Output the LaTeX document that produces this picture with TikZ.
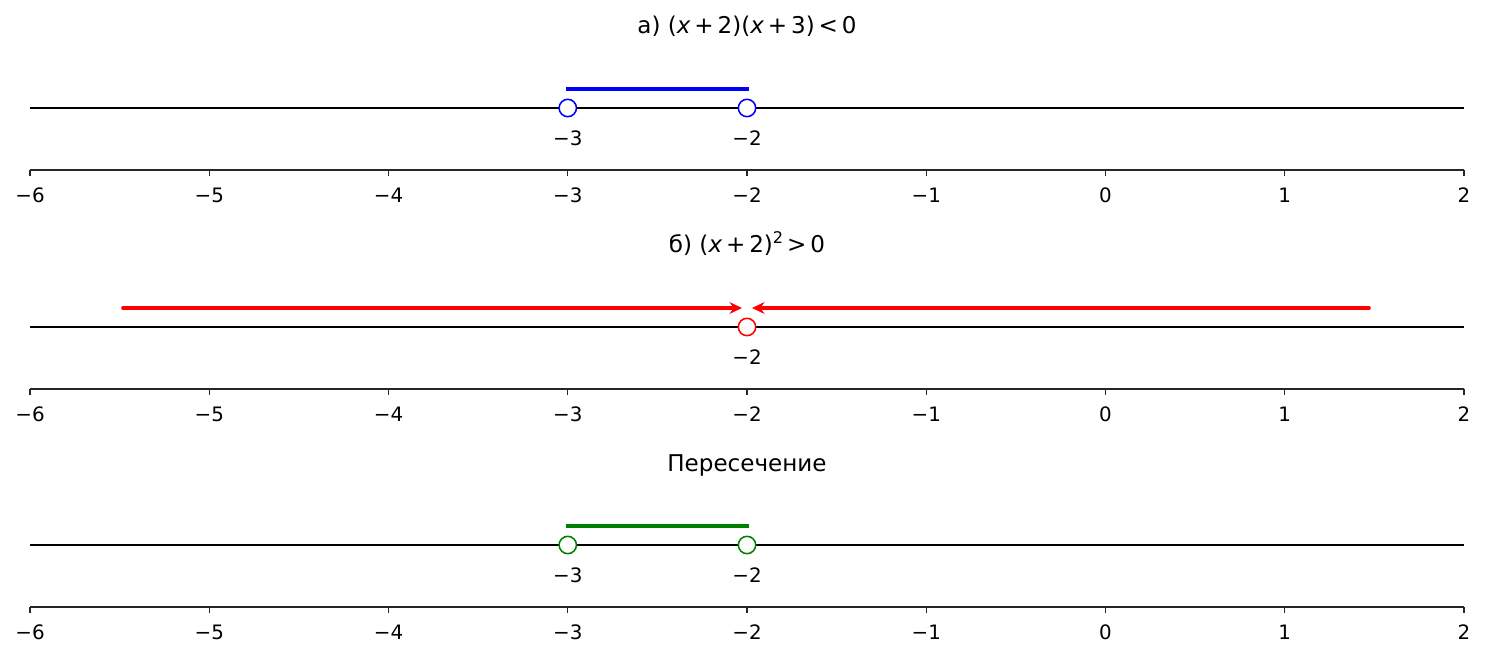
\documentclass[tikz,border=0pt]{standalone}
\usepackage{fontspec}
\setmainfont{DejaVu Sans}
\usetikzlibrary{arrows.meta}
\definecolor{mplblue}{RGB}{0,0,255}
\definecolor{mplred}{RGB}{255,0,0}
\definecolor{mplgreen}{RGB}{0,128,0}
\newcommand{\vx}{{\itshape x}}
\newcommand{\bsp}{\hspace{0.17em}}
\tikzset{
  numline/.style={black, line width=1.3pt},
  axisline/.style={black!85, line width=1pt},
  tickmark/.style={black!85, line width=1pt},
  openpt/.style={circle, draw, fill=white, line width=1.1pt, minimum size=12.5pt, inner sep=0pt},
  lbl/.style={font=\fontsize{14.3}{16}\selectfont, inner sep=0pt},
  ttl/.style={font=\fontsize{16.6}{19}\selectfont, inner sep=0pt, anchor=base},
  bar/.style={line width=3pt, line cap=rect},
  rarrow/.style={mplred, line width=2.6pt, line cap=round, -{Stealth[length=9pt,width=8.5pt,inset=3pt]}},
}
\begin{document}
\begin{tikzpicture}[x=0.72pt,y=-0.72pt]
\useasboundingbox (0,0) rectangle (1485,657);
% axes for all three panels
\foreach \ay [count=\k] in {170,389,607} {
  \coordinate (axl\k) at (30,\ay);
  \coordinate (axr\k) at (1464,\ay);
  \draw[axisline] (axl\k) -- (axr\k);
  \foreach \v in {-6,...,2} {
    \coordinate (t\k\v) at ({30+179.25*(\v+6)},\ay);
    \draw[tickmark] (t\k\v) -- ++(0,6);
    \node[lbl] (tl\k\v) at ({30+179.25*(\v+6)},\ay+25)
      {\ifnum\v<0 −\the\numexpr-\v\relax\else\v\fi};
  }
}
% ---------- panel a ----------
\node[ttl] (ta) at (747,34) {а) (\vx\bsp+\bsp2)(\vx\bsp+\bsp3)\bsp<\bsp0};
\coordinate (la) at (30,108);
\coordinate (ra) at (1464,108);
\draw[numline] (la) -- (ra);
\coordinate (a3t) at (567.75,89);
\coordinate (a2t) at (747,89);
\draw[bar, mplblue] (a3t) -- (a2t);
\node[openpt, draw=mplblue] (a3) at (567.75,108) {};
\node[openpt, draw=mplblue] (a2) at (747,108) {};
\node[lbl] (a3l) at (567.75,138.5) {−3};
\node[lbl] (a2l) at (747,138.5) {−2};
% ---------- panel b ----------
\node[ttl] (tb) at (747,253) {б) (\vx\bsp+\bsp2)\raisebox{0.42em}{\fontsize{11.6}{12}\selectfont 2}\bsp>\bsp0};
\coordinate (lb) at (30,327);
\coordinate (rb) at (1464,327);
\draw[numline] (lb) -- (rb);
\coordinate (bls) at (123,308);
\coordinate (ble) at (742,308);
\coordinate (brs) at (1369,308);
\coordinate (bre) at (752,308);
\draw[rarrow] (bls) -- (ble);
\draw[rarrow] (brs) -- (bre);
\node[openpt, draw=mplred] (b2) at (747,327) {};
\node[lbl] (b2l) at (747,357.5) {−2};
% ---------- panel c ----------
\node[ttl] (tc) at (747,472) {Пересечение};
\coordinate (lc) at (30,545);
\coordinate (rc) at (1464,545);
\draw[numline] (lc) -- (rc);
\coordinate (c3t) at (567.75,526);
\coordinate (c2t) at (747,526);
\draw[bar, mplgreen] (c3t) -- (c2t);
\node[openpt, draw=mplgreen] (c3) at (567.75,545) {};
\node[openpt, draw=mplgreen] (c2) at (747,545) {};
\node[lbl] (c3l) at (567.75,575.5) {−3};
\node[lbl] (c2l) at (747,575.5) {−2};
\end{tikzpicture}
\end{document}
